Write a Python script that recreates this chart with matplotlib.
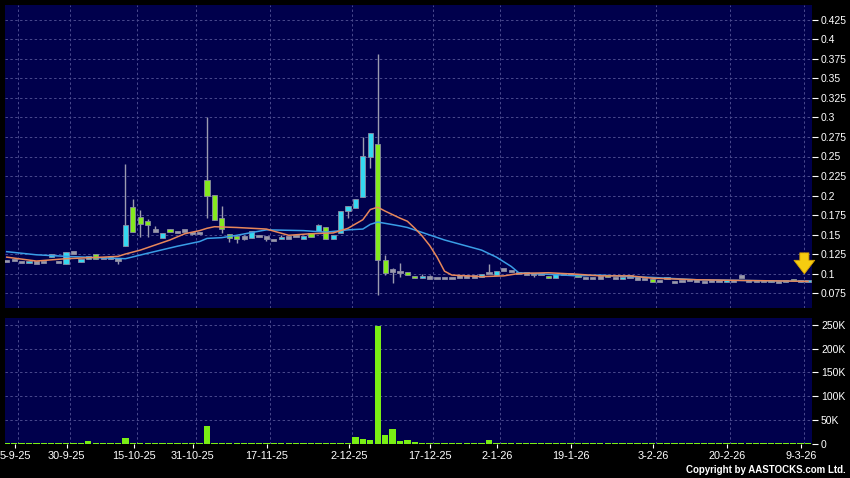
import matplotlib
matplotlib.use('Agg')
import matplotlib.pyplot as plt
import numpy as np

plt.rcParams['font.family'] = ['Liberation Sans', 'DejaVu Sans']

# daily OHLC (one entry per trading day, 0..108)
opens = [
    0.116, 0.117, 0.115, 0.113, 0.114, 0.115, 0.121, 0.115, 0.112, 0.127,
    0.115, 0.119, 0.125, 0.120, 0.119, 0.118, 0.135, 0.185, 0.173, 0.167,
    0.155, 0.145, 0.157, 0.153, 0.155, 0.152, 0.152, 0.220, 0.201, 0.171,
    0.151, 0.148, 0.146, 0.145, 0.148, 0.146, 0.143, 0.144, 0.146, 0.148,
    0.144, 0.152, 0.155, 0.159, 0.144, 0.152, 0.180, 0.184, 0.198, 0.250,
    0.266, 0.117, 0.104, 0.102, 0.102, 0.097, 0.094, 0.095, 0.094, 0.094,
    0.094, 0.096, 0.096, 0.096, 0.096, 0.101, 0.098, 0.105, 0.103, 0.101,
    0.100, 0.099, 0.099, 0.097, 0.094, 0.099, 0.099, 0.097, 0.094, 0.094,
    0.095, 0.097, 0.094, 0.093, 0.096, 0.0935, 0.093, 0.093, 0.090, 0.094,
    0.089, 0.090, 0.092, 0.091, 0.089, 0.090, 0.090, 0.089, 0.090, 0.096,
    0.090, 0.090, 0.090, 0.089, 0.089, 0.089, 0.093, 0.089, 0.089,
]
closes = [
    0.116, 0.117, 0.115, 0.116, 0.114, 0.115, 0.125, 0.115, 0.127, 0.127,
    0.119, 0.122, 0.118, 0.120, 0.121, 0.118, 0.162, 0.153, 0.164, 0.162,
    0.155, 0.152, 0.153, 0.153, 0.155, 0.152, 0.152, 0.200, 0.168, 0.157,
    0.146, 0.144, 0.146, 0.155, 0.148, 0.146, 0.143, 0.147, 0.146, 0.148,
    0.148, 0.147, 0.162, 0.144, 0.149, 0.180, 0.186, 0.196, 0.251, 0.280,
    0.117, 0.101, 0.104, 0.102, 0.098, 0.094, 0.097, 0.095, 0.094, 0.094,
    0.094, 0.096, 0.096, 0.096, 0.099, 0.101, 0.103, 0.105, 0.103, 0.101,
    0.100, 0.099, 0.099, 0.094, 0.099, 0.099, 0.099, 0.096, 0.094, 0.094,
    0.095, 0.095, 0.094, 0.094, 0.096, 0.0935, 0.093, 0.089, 0.090, 0.093,
    0.089, 0.090, 0.092, 0.091, 0.089, 0.090, 0.090, 0.092, 0.090, 0.096,
    0.090, 0.090, 0.090, 0.090, 0.089, 0.090, 0.090, 0.090, 0.090,
]
highs = [
    0.116, 0.117, 0.115, 0.116, 0.114, 0.115, 0.125, 0.115, 0.127, 0.127,
    0.119, 0.122, 0.125, 0.120, 0.123, 0.118, 0.240, 0.196, 0.181, 0.170,
    0.161, 0.152, 0.157, 0.153, 0.155, 0.152, 0.152, 0.301, 0.201, 0.186,
    0.151, 0.148, 0.150, 0.155, 0.148, 0.146, 0.143, 0.150, 0.146, 0.148,
    0.148, 0.152, 0.164, 0.159, 0.149, 0.180, 0.186, 0.196, 0.275, 0.280,
    0.381, 0.124, 0.107, 0.113, 0.102, 0.097, 0.100, 0.098, 0.094, 0.094,
    0.094, 0.096, 0.096, 0.096, 0.099, 0.112, 0.103, 0.105, 0.103, 0.101,
    0.100, 0.099, 0.099, 0.097, 0.099, 0.099, 0.099, 0.097, 0.094, 0.094,
    0.095, 0.097, 0.094, 0.094, 0.096, 0.0935, 0.093, 0.093, 0.090, 0.096,
    0.089, 0.090, 0.092, 0.091, 0.089, 0.090, 0.090, 0.092, 0.090, 0.096,
    0.090, 0.090, 0.090, 0.090, 0.089, 0.090, 0.093, 0.090, 0.090,
]
lows = [
    0.116, 0.117, 0.115, 0.113, 0.114, 0.115, 0.121, 0.115, 0.112, 0.127,
    0.115, 0.119, 0.118, 0.120, 0.119, 0.112, 0.135, 0.153, 0.147, 0.147,
    0.155, 0.145, 0.153, 0.153, 0.155, 0.150, 0.152, 0.171, 0.168, 0.152,
    0.141, 0.139, 0.143, 0.145, 0.148, 0.142, 0.143, 0.144, 0.146, 0.148,
    0.144, 0.147, 0.155, 0.144, 0.144, 0.152, 0.171, 0.184, 0.198, 0.235,
    0.072, 0.098, 0.088, 0.096, 0.098, 0.094, 0.094, 0.095, 0.094, 0.094,
    0.094, 0.096, 0.096, 0.096, 0.096, 0.101, 0.098, 0.105, 0.103, 0.101,
    0.100, 0.096, 0.099, 0.094, 0.094, 0.099, 0.099, 0.096, 0.094, 0.094,
    0.095, 0.095, 0.094, 0.093, 0.096, 0.0935, 0.093, 0.089, 0.090, 0.093,
    0.089, 0.090, 0.092, 0.091, 0.089, 0.090, 0.090, 0.089, 0.090, 0.096,
    0.090, 0.090, 0.090, 0.089, 0.089, 0.089, 0.090, 0.089, 0.089,
]
# volume in thousands of shares
volumes = [
    0.2, 0.2, 0.1, 0.3, 0.1, 0.2, 0.4, 0.1, 0.5, 0.1,
    0.3, 6.0, 0.4, 0.1, 0.3, 0.2, 12.0, 2.0, 0.8, 0.6,
    0.3, 0.4, 0.3, 0.1, 0.2, 0.2, 0.1, 36.0, 1.5, 1.0,
    1.0, 0.8, 0.3, 0.4, 0.2, 0.2, 0.1, 0.3, 0.1, 0.2,
    0.3, 0.4, 0.5, 0.8, 0.4, 0.6, 1.2, 13.0, 10.0, 7.0,
    248.0, 18.0, 30.0, 6.0, 6.5, 4.0, 2.0, 1.0, 0.5, 0.4,
    0.3, 0.3, 0.4, 0.5, 2.0, 7.0, 0.5, 0.6, 2.0, 0.4,
    0.5, 0.3, 0.3, 0.4, 0.5, 0.3, 0.3, 0.4, 0.2, 0.2,
    0.3, 0.2, 0.3, 0.2, 0.2, 0.2, 0.3, 0.4, 0.2, 0.3,
    0.2, 0.2, 0.2, 0.2, 0.2, 0.2, 0.2, 0.3, 0.2, 0.2,
    0.2, 0.2, 0.2, 0.3, 0.2, 0.2, 0.3, 0.2, 0.2,
]

# moving averages, read at a set of days
ma_short_days = [0, 4, 8, 13, 15, 16, 18, 22, 24, 26, 27, 28, 31, 35, 38, 41, 44, 46, 48, 49,
                 50, 51, 53, 54, 55, 56, 57, 58, 59, 60, 64, 67, 69, 73, 77, 80, 84, 87, 93, 100, 108]
ma_short = [0.121, 0.116, 0.119, 0.121, 0.122, 0.125, 0.130, 0.143, 0.151, 0.155, 0.158, 0.160,
            0.159, 0.157, 0.149, 0.151, 0.152, 0.158, 0.169, 0.182, 0.185, 0.180, 0.171, 0.167,
            0.158, 0.148, 0.136, 0.121, 0.103, 0.098, 0.096, 0.097, 0.100, 0.101, 0.099, 0.097,
            0.097, 0.094, 0.092, 0.091, 0.090]
ma_long_days = [0, 4, 8, 13, 16, 19, 23, 26, 27, 29, 31, 35, 40, 43, 46, 48, 49, 50, 53, 54,
                59, 64, 66, 68, 69, 73, 77, 80, 84, 87, 93, 100, 108]
ma_long = [0.128, 0.124, 0.122, 0.120, 0.119, 0.126, 0.135, 0.141, 0.145, 0.146, 0.149, 0.156,
           0.155, 0.153, 0.156, 0.157, 0.163, 0.166, 0.161, 0.159, 0.143, 0.130, 0.121, 0.109,
           0.101, 0.099, 0.097, 0.098, 0.096, 0.095, 0.092, 0.091, 0.090]

date_labels = ['5-9-25', '30-9-25', '15-10-25', '31-10-25', '17-11-25', '2-12-25',
               '17-12-25', '2-1-26', '19-1-26', '3-2-26', '20-2-26', '9-3-26']
date_days = [2, 9, 18, 26, 36, 47, 58, 67, 77, 88, 98, 108]

price_ticks = [0.075, 0.1, 0.125, 0.15, 0.175, 0.2, 0.225, 0.25, 0.275, 0.3,
               0.325, 0.35, 0.375, 0.4, 0.425]
vol_ticks = [0, 50, 100, 150, 200, 250]
vol_tick_labels = ['0', '50K', '100K', '150K', '200K', '250K']

BG = '#00004c'
GRID = '#4a4a8e'
UP = '#35d8f0'
DOWN = '#84ea1e'
FLAT = '#9a9aaa'
EDGE = '#8c8ca4'

W, H = 850, 478
fig = plt.figure(figsize=(W / 100, H / 100), dpi=100, facecolor='black')
ax = fig.add_axes([5 / W, 1 - 308 / H, 807 / W, 303 / H])
axv = fig.add_axes([5 / W, 1 - 444 / H, 807 / W, 126 / H])

o = np.array(opens)
c = np.array(closes)
hi = np.array(highs)
lo = np.array(lows)
x = np.arange(len(o))

for a in (ax, axv):
    a.set_facecolor(BG)
    for s in a.spines.values():
        s.set_visible(False)
    a.set_xlim(-0.23, 108.53)
    for d in date_days:
        a.axvline(d - 0.5, color=GRID, lw=0.7, ls=(0, (2.5, 2.5)), zorder=0)

# grid
for p in price_ticks:
    ax.axhline(p, color=GRID, lw=0.7, ls=(0, (2.5, 2.5)), zorder=0)
for v in vol_ticks[1:]:
    axv.axhline(v, color=GRID, lw=0.7, ls=(0, (2.5, 2.5)), zorder=0)

# candles
colors = np.where(c > o, UP, np.where(c < o, DOWN, FLAT))
ax.vlines(x, lo, hi, color='#9c9cb0', lw=1, zorder=2)
body_h = np.maximum(np.abs(c - o), 0.003)
body_b = np.minimum(o, c)
body_b = np.where(c == o, o - 0.0015, body_b)
ax.bar(x, body_h, bottom=body_b, width=0.7, color=colors, edgecolor=EDGE, lw=0.6, zorder=3)

# moving averages
ax.plot(ma_long_days, ma_long, color='#3a9ee6', lw=1.1, zorder=4)
ax.plot(ma_short_days, ma_short, color='#e8875a', lw=1.1, zorder=4)

# marker arrow on the last day
ax.annotate('', xy=(x[-1] - 0.5, c[-1] + 0.006), xytext=(x[-1] - 0.5, c[-1] + 0.040),
            arrowprops=dict(arrowstyle='simple,head_length=0.75,head_width=1.15,tail_width=0.5',
                            fc='#f6cc10', ec='#d8a000', lw=0.6, mutation_scale=13), zorder=6)

ax.set_ylim(0.0558, 0.4442)
ax.yaxis.tick_right()
ax.set_yticks(price_ticks)
ax.set_yticklabels(['%g' % p for p in price_ticks])
ax.tick_params(axis='y', colors='white', labelsize=7.5, length=4, width=0.8, pad=2.5)
ax.tick_params(axis='x', bottom=False, labelbottom=False)

# volume
axv.bar(x, volumes, width=0.85, color='#7aee14', zorder=3)
axv.set_ylim(-1, 265)
axv.yaxis.tick_right()
axv.set_yticks(vol_ticks)
axv.set_yticklabels(vol_tick_labels)
axv.tick_params(axis='y', colors='white', labelsize=7.5, length=4, width=0.8, pad=2.5)
axv.set_xticks([d - 0.9 for d in date_days])
axv.set_xticklabels(date_labels)
axv.tick_params(axis='x', colors='white', labelsize=7.8, length=3, width=0.8, pad=2)

fig.text(846 / W, 1 - 470 / H, 'Copyright by AASTOCKS.com Ltd.', ha='right', va='center',
         color='white', fontsize=7, fontweight='bold')

fig.savefig('out.png', dpi=100, facecolor='black')
